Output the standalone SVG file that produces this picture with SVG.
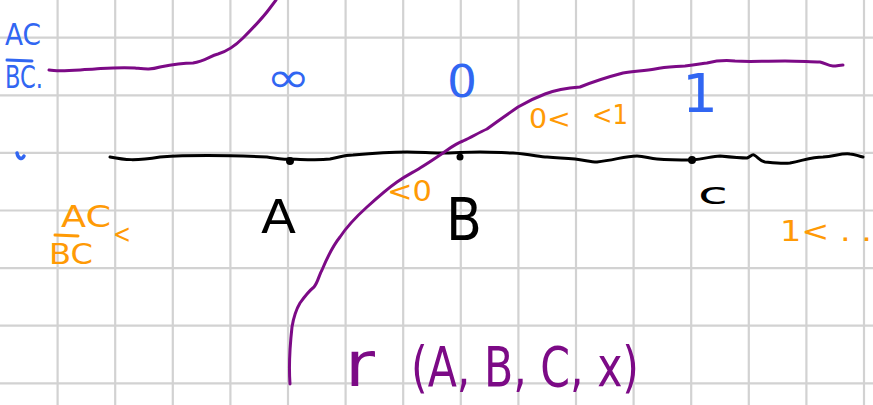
<svg xmlns="http://www.w3.org/2000/svg" width="873" height="405" viewBox="0 0 873 405">
<style>
.grid{stroke:#d2d2d2;stroke-width:2.2;fill:none}
.ink{fill:none;stroke-linecap:round;stroke-linejoin:round}
.purple{stroke:#7c0a86;stroke-width:3}
.black{stroke:#000;stroke-width:3}
.t{font-family:"DejaVu Sans","Liberation Sans",sans-serif}
.blue{fill:#3166f2}
.orange{fill:#ff9a05}
.k{fill:#000}
.pt{fill:#7c0a86}
</style>
<rect width="873" height="405" fill="#fff"/>
<g id="grid" class="grid">
<path d="M57.6 0V405M115.2 0V405M172.8 0V405M230.4 0V405M288 0V405M345.6 0V405M403.2 0V405M460.8 0V405M518.4 0V405M576 0V405M633.6 0V405M691.2 0V405M748.8 0V405M806.4 0V405M864 0V405"/>
<path d="M0 37.7H873M0 95.3H873M0 152.9H873M0 210.5H873M0 268.1H873M0 325.7H873M0 383.3H873"/>
</g>
<g id="axis">
<path class="ink black" d="M110 157 C125 160 135 161 160 157 C190 155 220 155 267 157 C275 158 280 160 288 159 C300 159 315 161 330 159 C340 157 345 155 353 155 C375 153 390 152 407 152 C420 152 430 153 440 153 C455 153 465 152 480 152 C495 152 505 153 513 153 C530 154 540 157 547 157 C560 158 565 158 575 159 C585 160 590 162 597 162 C615 160 625 156 637 156 C645 156 650 159 657 159 C670 160 680 160 692 160 C705 159 712 156 720 156 C730 157 740 158 747 158 C750 157 752 154 754 155 C758 157 760 161 765 162 C775 163 783 164 790 163 C805 160 812 157 823 157 C835 156 842 153 850 154 C855 154 858 156 863 157"/>
<circle cx="290" cy="161" r="4" class="k"/>
<circle cx="460" cy="157" r="3.5" class="k"/>
<circle cx="692" cy="160" r="4" class="k"/>
</g>
<g id="curves">
<path class="ink purple" d="M49 70 C60 72 75 70 95 69 C110 68 120 67 135 68 C145 69 150 70 160 67 C170 65 180 63 193 63 C205 61 210 56 218 54 C228 51 235 46 243 38 C255 26 262 19 270 8 L276 0"/>
<path class="ink purple" d="M290 384 C289 370 290 345 292 327 C294 315 297 308 300 303 C305 296 309 291 314 287 C318 282 319 275 322 270 C327 258 332 247 340 237 C348 225 357 216 367 207 C378 197 387 189 397 182 C407 175 414 172 420 168 C430 162 437 157 443 153 C450 148 455 144 463 141 C472 137 478 133 487 129 C495 123 505 116 518 107 C530 100 537 97 545 94 C555 90 565 88 580 87 C590 83 600 79 623 73 C635 71 645 71 655 69 C665 67 672 67 685 66 C695 65 700 64 707 63 C715 61 725 60 735 61 C750 62 760 61 785 61 C800 61 810 62 820 62 C825 63 828 66 833 66 C837 66 840 65 843 65"/>
</g>
<g id="blue-labels" class="t blue">
<text x="5" y="45" font-size="30" textLength="36" lengthAdjust="spacingAndGlyphs">AC</text>
<path class="ink" stroke="#3166f2" stroke-width="3" d="M7 60 L32 61"/>
<text x="5" y="88" font-size="32" textLength="38" lengthAdjust="spacingAndGlyphs">BC.</text>
<text x="266" y="92" font-size="42" textLength="44" lengthAdjust="spacingAndGlyphs">∞</text>
<text x="447" y="97" font-size="44" textLength="30" lengthAdjust="spacingAndGlyphs">0</text>
<text x="682" y="112" font-size="54" textLength="36" lengthAdjust="spacingAndGlyphs">1</text>
<path class="ink" stroke="#3166f2" stroke-width="3.5" d="M17 153 C18 159 22 160 24 156"/>
</g>
<g id="orange-labels" class="t orange">
<text x="529" y="128" font-size="27" textLength="42" lengthAdjust="spacingAndGlyphs">0&lt;</text>
<text x="592" y="124" font-size="27" textLength="36" lengthAdjust="spacingAndGlyphs">&lt;1</text>
<text x="387" y="201" font-size="28" textLength="45" lengthAdjust="spacingAndGlyphs">&lt;0</text>
<text x="61" y="227" font-size="30" textLength="50" lengthAdjust="spacingAndGlyphs">AC</text>
<path class="ink" stroke="#ff9a05" stroke-width="3" d="M55 235 L78 236"/>
<text x="49" y="264" font-size="28" textLength="44" lengthAdjust="spacingAndGlyphs">BC</text>
<text x="113" y="243" font-size="26" textLength="18" lengthAdjust="spacingAndGlyphs">&lt;</text>
<text x="780" y="241" font-size="28" textLength="92" lengthAdjust="spacingAndGlyphs">1&lt; . .</text>
</g>
<g id="point-labels" class="t k">
<text x="261" y="233" font-size="46" textLength="35" lengthAdjust="spacingAndGlyphs">A</text>
<text x="446" y="240" font-size="58" textLength="36" lengthAdjust="spacingAndGlyphs">B</text>
<text x="698" y="204" font-size="30" textLength="30" lengthAdjust="spacingAndGlyphs">c</text>
</g>
<g id="formula" class="t pt">
<text x="345" y="386" font-size="62" textLength="30" lengthAdjust="spacingAndGlyphs">r</text>
<text x="411" y="386" font-size="56" textLength="228" lengthAdjust="spacingAndGlyphs">(A, B, C, x)</text>
</g>
</svg>
